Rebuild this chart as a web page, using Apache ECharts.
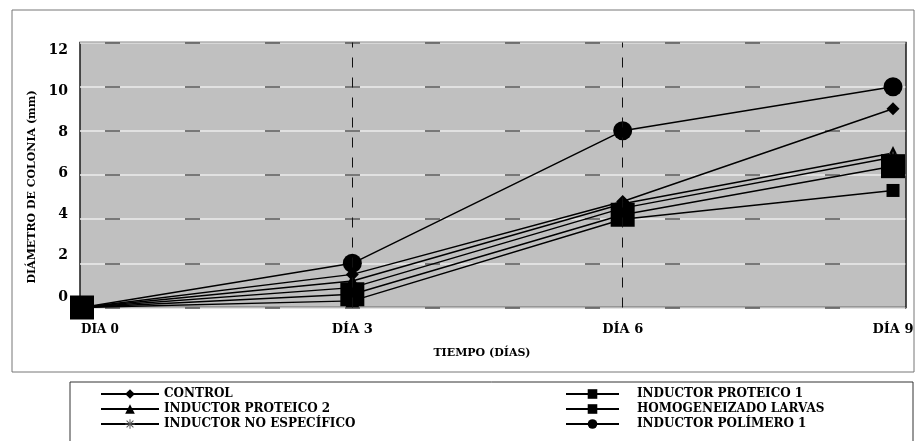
<!DOCTYPE html>
<html>
<head>
<meta charset="utf-8">
<script src="https://cdn.jsdelivr.net/npm/echarts@6/dist/echarts.min.js"></script>
<style>
  html, body { margin: 0; padding: 0; background: #fff; }
  #chart { width: 920px; height: 441px; }
</style>
</head>
<body>
<div id="chart"></div>
<script>
// datos
var dias = [0, 3, 6, 9];
var diaLabels = ['DIA 0', 'DÍA 3', 'DÍA 6', 'DÍA 9'];
var yTicks = [0, 2, 4, 6, 8, 10, 12];

var control = [0, 1.5, 4.8, 9.0];
var proteico1 = [0, 0.3, 4.0, 5.3];
var proteico2 = [0, 1.2, 4.7, 7.0];
var noEspecifico = [0, 0.9, 4.5, 6.8];
var homogeneizado = [0, 0.6, 4.2, 6.4];
var polimero = [0, 2.0, 8.0, 10.0];

var FONT = '"DejaVu Serif", "Liberation Serif", serif';
var asterisk = 'path://M9,0h2v20h-2z M0,9h20v2h-20z M2.2,3.6l1.4,-1.4l14.2,14.2l-1.4,1.4z M16.4,2.2l1.4,1.4l-14.2,14.2l-1.4,-1.4z';

function pares(vals) {
    var out = [];
    for (var i = 0; i < dias.length; i++) {
        out.push([dias[i], vals[i]]);
    }
    return out;
}

function serie(name, vals, symbol, size, color) {
    return {
        name: name,
        type: 'line',
        data: pares(vals),
        symbol: symbol,
        symbolSize: size,
        lineStyle: { color: '#000', width: 1.5 },
        itemStyle: { color: color || '#000' },
        emphasis: { disabled: true },
        animation: false
    };
}

var chart = echarts.init(document.getElementById('chart'));

var series = [
    serie('CONTROL', control, 'diamond', 13),
    serie('INDUCTOR PROTEICO 1', proteico1, 'rect', 13),
    serie('INDUCTOR PROTEICO 2', proteico2, 'triangle', 14),
    serie('INDUCTOR NO ESPECÍFICO', noEspecifico, asterisk, 11, '#555'),
    serie('INDUCTOR POLÍMERO 1', polimero, 'circle', 19),
    serie('HOMOGENEIZADO LARVAS', homogeneizado, 'rect', 24)
];
// lineas verticales discontinuas en dia 3 y dia 6
series[0].markLine = {
    silent: true,
    symbol: 'none',
    label: { show: false },
    lineStyle: { color: '#111', width: 1, type: [10, 10] },
    data: [{ xAxis: 3 }, { xAxis: 6 }],
    animation: false
};

var option = {
    backgroundColor: '#fff',
    animation: false,
    graphic: [
        { type: 'rect', z: -10, shape: { x: 12, y: 10, width: 902, height: 362 },
          style: { fill: 'none', stroke: '#777', lineWidth: 1 } },
        { type: 'rect', z: -10, shape: { x: 70, y: 382, width: 843, height: 80 },
          style: { fill: 'none', stroke: '#333', lineWidth: 1 } }
    ],
    grid: {
        left: 80, right: 14, top: 42.5, bottom: 133.5,
        show: true, backgroundColor: '#c0c0c0',
        borderColor: '#1a1a1a', borderWidth: 1.5
    },
    legend: [
        {
            orient: 'vertical', left: 95, top: 383,
            itemWidth: 58, itemHeight: 12, itemGap: 3,
            textStyle: { fontFamily: FONT, fontWeight: 'bold', fontSize: 12, color: '#000' },
            data: ['CONTROL', 'INDUCTOR PROTEICO 2', 'INDUCTOR NO ESPECÍFICO'],
            selectedMode: false
        },
        {
            orient: 'vertical', left: 560, top: 383,
            itemWidth: 53, itemHeight: 12, itemGap: 3,
            textStyle: { fontFamily: FONT, fontWeight: 'bold', fontSize: 12, color: '#000', padding: [0, 0, 0, 13] },
            data: ['INDUCTOR PROTEICO 1', 'HOMOGENEIZADO LARVAS', 'INDUCTOR POLÍMERO 1'],
            selectedMode: false
        }
    ],
    xAxis: {
        type: 'value',
        min: -0.022, max: 9.144,
        name: 'TIEMPO (DÍAS)',
        nameLocation: 'middle',
        nameGap: 40,
        nameTextStyle: { fontFamily: FONT, fontWeight: 'bold', fontSize: 11, color: '#000', padding: [0, 22, 0, 0] },
        axisLine: { show: false },
        axisTick: { show: false },
        splitLine: { show: false },
        axisLabel: {
            customValues: dias,
            margin: 16,
            fontFamily: FONT, fontWeight: 'bold', fontSize: 13, color: '#000',
            formatter: function (v) {
                var i = dias.indexOf(v);
                if (i === 0) return '{f|' + diaLabels[i] + '}';
                return diaLabels[i];
            },
            rich: { f: { fontFamily: FONT, fontWeight: 'bold', fontSize: 12, color: '#000', padding: [0, 0, 0, 36] } }
        }
    },
    yAxis: [
        {
            type: 'value', min: 0, max: 12, interval: 2,
            axisLine: { show: false }, axisTick: { show: false },
            axisLabel: { show: false },
            splitLine: { lineStyle: { color: '#ececec', width: 1.5 } }
        },
        {
            // solo etiquetas (algo desplazadas como en la figura)
            type: 'value', min: -0.51, max: 12.36, position: 'left',
            name: 'DIÁMETRO DE COLONIA (mm)',
            nameLocation: 'middle', nameRotate: 90, nameGap: 41,
            nameTextStyle: { fontFamily: FONT, fontWeight: 'bold', fontSize: 11, color: '#000', padding: [0, 24, 0, 0] },
            axisLine: { show: false }, axisTick: { show: false },
            splitLine: { show: false },
            axisLabel: {
                customValues: yTicks, margin: 12,
                fontFamily: FONT, fontWeight: 'bold', fontSize: 14, color: '#000'
            }
        },
        {
            type: 'value', min: 0, max: 12, interval: 2,
            axisLine: { show: false }, axisTick: { show: false },
            axisLabel: { show: false },
            splitLine: { lineStyle: { color: '#555', width: 1.5, type: [15, 65], dashOffset: 55 } }
        }
    ],
    series: series
};

chart.setOption(option);
</script>
</body>
</html>
